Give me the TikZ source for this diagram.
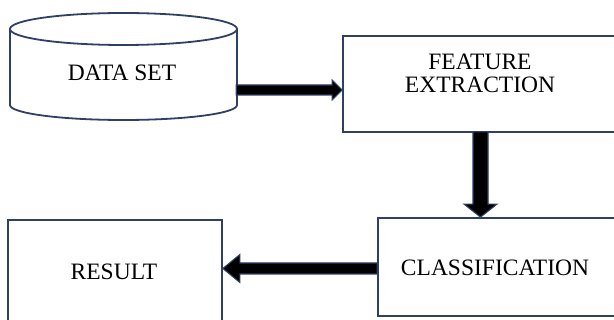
\documentclass[tikz,border=0pt]{standalone}
\usepackage{fontspec}
\setmainfont{Liberation Serif}
\usetikzlibrary{calc}
\definecolor{navy}{RGB}{47,64,100}
\tikzset{
  box/.style={draw=navy, line width=1.8pt, fill=white, inner sep=0pt},
  lbl/.style={inner sep=0pt, align=center, font=\fontsize{23.5}{23}\selectfont},
  fatarrow/.style={fill=black, draw=navy, line width=1.1pt, line join=miter}
}
\begin{document}
\begin{tikzpicture}[x=1pt, y=-1pt]
\clip (0,0) rectangle (614,320);
\fill[white] (0,0) rectangle (614,320);
% cylinder (data set)
\node[inner sep=0pt, minimum width=227pt, minimum height=107pt] (ds) at (123.5,66.5) {};
\draw[navy, line width=1.8pt, fill=white] (10,29) -- (10,105)
  arc[start angle=180, end angle=0, x radius=113.5, y radius=15] -- (237,29);
\draw[navy, line width=1.8pt] (123.5,29) ellipse [x radius=113.5, y radius=16];
\node[lbl] (dst) at (122,73) {DATA SET};
% boxes
\node[box, minimum width=297pt, minimum height=96pt] (fe) at (491.5,84) {};
\node[lbl] (fet) at (480,73.5) {FEATURE\\EXTRACTION};
\node[box, minimum width=262pt, minimum height=98pt] (cl) at (509,267) {};
\node[lbl] (clt) at (495,267.5) {CLASSIFICATION};
\node[box, minimum width=214pt, minimum height=120pt] (rs) at (115,280) {};
\node[lbl] (rst) at (114,272) {RESULT};
% arrow 1: data set -> feature extraction
\coordinate (a1s) at ($(ds.east)+(-1,23.5)$);
\coordinate (a1e) at (fe.west |- a1s);
\draw[fatarrow] ($(a1s)+(0,-5)$) -- ($(a1e)+(-10,-5)$) -- ($(a1e)+(-10,-10)$) -- (a1e)
  -- ($(a1e)+(-10,10)$) -- ($(a1e)+(-10,5)$) -- ($(a1s)+(0,5)$) -- cycle;
% arrow 2: feature extraction -> classification
\coordinate (a2s) at ($(fe.south)+(-11,-1)$);
\coordinate (a2e) at (a2s |- cl.north);
\draw[fatarrow] ($(a2s)+(-7.5,0)$) -- ($(a2e)+(-7.5,-13)$) -- ($(a2e)+(-16.5,-13)$) -- (a2e)
  -- ($(a2e)+(16.5,-13)$) -- ($(a2e)+(7.5,-13)$) -- ($(a2s)+(7.5,0)$) -- cycle;
% arrow 3: classification -> result
\coordinate (a3s) at ($(cl.west)+(0,1.5)$);
\coordinate (a3e) at (rs.east |- a3s);
\draw[fatarrow] ($(a3s)+(0,-5.5)$) -- ($(a3e)+(17,-5.5)$) -- ($(a3e)+(17,-14)$) -- (a3e)
  -- ($(a3e)+(17,14)$) -- ($(a3e)+(17,5.5)$) -- ($(a3s)+(0,5.5)$) -- cycle;
\end{tikzpicture}
\end{document}
